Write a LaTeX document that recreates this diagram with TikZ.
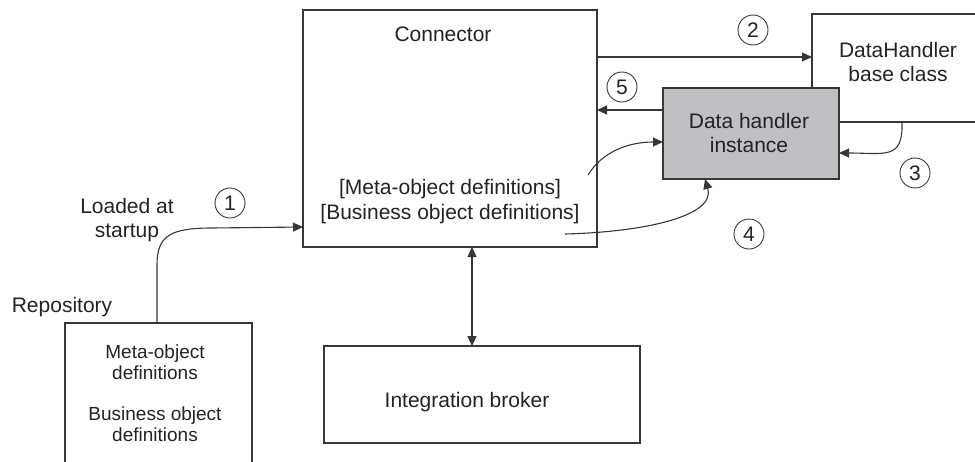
\documentclass[tikz,border=0pt]{standalone}
\usepackage{fontspec}
\setmainfont{Liberation Sans}
\usetikzlibrary{arrows.meta,calc}
\definecolor{ln}{RGB}{55,55,55}
\definecolor{fillg}{RGB}{192,192,196}
\definecolor{tx}{RGB}{35,35,35}
\begin{document}
\begin{tikzpicture}[x=1pt,y=-1pt,
 box/.style={draw=ln,line width=1.1pt,inner sep=0pt,outer sep=0pt},
 txt/.style={text=tx,font=\fontsize{21}{24}\selectfont,align=center,inner sep=0pt},
 smalltxt/.style={text=tx,font=\fontsize{19}{21.5}\selectfont,align=center,inner sep=0pt},
 num/.style={circle,draw=ln,line width=0.9pt,minimum size=30pt,inner sep=0pt,text=tx,font=\fontsize{21}{21}\selectfont},
 arr/.style={draw=ln,line width=1.1pt,-{Triangle[length=10pt,width=9pt]}},
 ]
\useasboundingbox (0,0) rectangle (975,461);

% boxes
\node[box,minimum width=294pt,minimum height=237pt,anchor=north west] (conn) at (303,10) {};
\node[box,minimum width=175pt,minimum height=108pt,anchor=north west] (dh) at (812,14) {};
\node[box,fill=fillg,minimum width=176pt,minimum height=91pt,anchor=north west,txt] (gray) at (663,88) {};
\node[txt] (graytxt) at (749,133) {Data handler\\instance};
\node[box,minimum width=187pt,minimum height=160pt,anchor=north west] (rep) at (65,323) {};
\node[box,minimum width=316pt,minimum height=97pt,anchor=north west] (broker) at (324,346) {};

% texts
\node[txt] (conntitle) at (443,34) {Connector};
\node[txt,font=\fontsize{21}{25}\selectfont] (defs) at (450,202) {[Meta-object definitions]\\{}[Business object definitions]};
\node[txt] (dhtxt) at (898,62) {DataHandler\\base class};
\node[txt] (load) at (127,220) {Loaded at\\startup};
\node[txt] (repo) at (62,307) {Repository};
\node[smalltxt] (rep1) at (155,362) {Meta-object\\definitions};
\node[smalltxt] (rep2) at (155,424) {Business object\\definitions};
\node[txt] (brtxt) at (467,402) {Integration broker};

% numbers
\node[num] (n1) at (230,203) {1};
\node[num] (n2) at (753,30) {2};
\node[num] (n3) at (915,173) {3};
\node[num] (n4) at (749,234) {4};
\node[num] (n5) at (622,87) {5};

% helper coordinates
\coordinate (y57) at (0,57);
\coordinate (y110) at (0,110);
\coordinate (c153) at (0,153);
\coordinate (c142) at (0,142);
\coordinate (c227) at (0,227);
\coordinate (x705) at (705,0);
\coordinate (x157) at (157,0);
\coordinate (x472) at (472,0);
\coordinate (s3) at (902,123);
\coordinate (s6) at (588,175);
\coordinate (s4) at (565,234);

% connectors
\draw[arr] (conn.east |- y57) -- (dh.west |- y57);
\draw[arr] (gray.west |- y110) -- (conn.east |- y110);
\draw[arr] (s3) .. controls (903,160) and (885,153) .. (gray.east |- c153);
\draw[arr] (s6) .. controls (602,152) and (628,142) .. (gray.west |- c142);
\draw[arr] (s4) .. controls (645,232) and (716,216) .. (gray.south -| x705);
\draw[arr] (rep.north -| x157) -- (157,265) .. controls (157,236) and (170,228) .. (212,228) -- (conn.west |- c227);
\draw[arr,{Triangle[length=10pt,width=9pt]}-{Triangle[length=10pt,width=9pt]}] (conn.south -| x472) -- (broker.north -| x472);
\end{tikzpicture}
\end{document}
